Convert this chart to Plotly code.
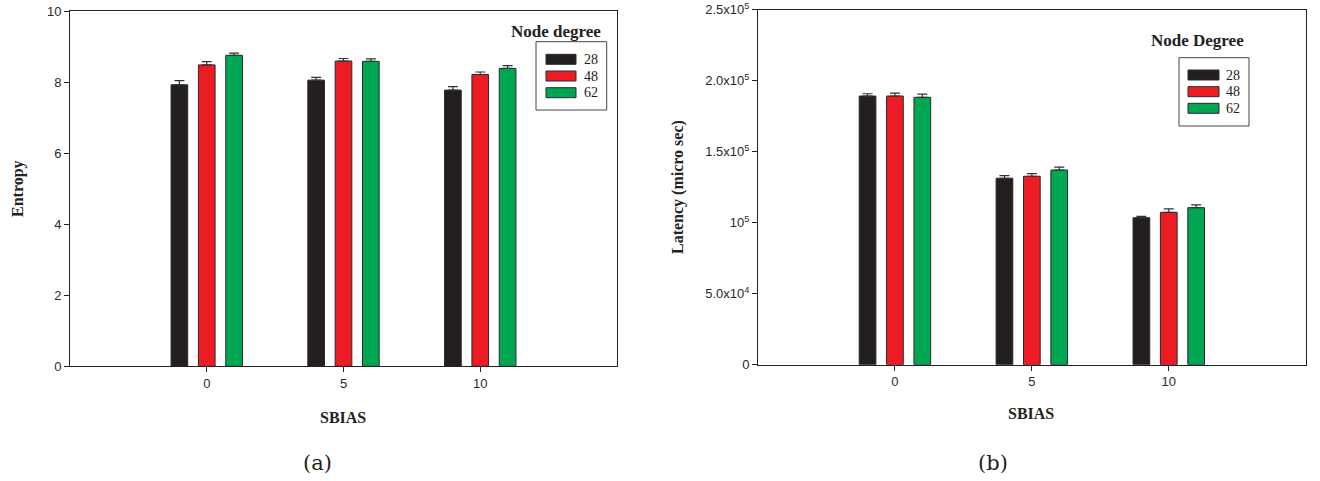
import plotly.graph_objects as go

# ---- data ----
sbias = [0, 5, 10]
degrees = ["28", "48", "62"]
colors = ["#231f20", "#ed1c24", "#00a651"]

entropy_28 = [7.93, 8.06, 7.78]
entropy_48 = [8.49, 8.60, 8.22]
entropy_62 = [8.76, 8.59, 8.39]
entropy_err_28 = [0.12, 0.08, 0.10]
entropy_err_48 = [0.09, 0.07, 0.07]
entropy_err_62 = [0.06, 0.07, 0.08]

latency_28 = [189200, 131300, 103500]
latency_48 = [189200, 132700, 107300]
latency_62 = [188300, 137100, 110600]
latency_err_28 = [1600, 1800, 1000]
latency_err_48 = [2000, 1800, 2500]
latency_err_62 = [2200, 2000, 1900]

entropy_ticks = [0, 2, 4, 6, 8, 10]
latency_tickvals = [0, 50000, 100000, 150000, 200000, 250000]
latency_ticktext = ["0", "5.0x10<sup>4</sup>", "10<sup>5</sup>", "1.5x10<sup>5</sup>",
                    "2.0x10<sup>5</sup>", "2.5x10<sup>5</sup>"]

W, H = 1320, 481
fig = go.Figure()

ent_vals = [entropy_28, entropy_48, entropy_62]
ent_errs = [entropy_err_28, entropy_err_48, entropy_err_62]
lat_vals = [latency_28, latency_48, latency_62]
lat_errs = [latency_err_28, latency_err_48, latency_err_62]

for i in range(3):
    fig.add_trace(go.Bar(
        x=sbias, y=ent_vals[i], name=degrees[i], xaxis="x", yaxis="y",
        marker=dict(color=colors[i], line=dict(color="#2a2a2a", width=1)),
        error_y=dict(type="data", symmetric=False, array=ent_errs[i],
                     arrayminus=[0, 0, 0], color="#333333", thickness=1.2, width=5),
        showlegend=False, offsetgroup=str(i), hoverinfo="skip"))
for i in range(3):
    fig.add_trace(go.Bar(
        x=sbias, y=lat_vals[i], name=degrees[i], xaxis="x2", yaxis="y2",
        marker=dict(color=colors[i], line=dict(color="#2a2a2a", width=1)),
        error_y=dict(type="data", symmetric=False, array=lat_errs[i],
                     arrayminus=[0, 0, 0], color="#333333", thickness=1.2, width=5),
        showlegend=False, offsetgroup=str(i), hoverinfo="skip"))

def px(x):
    return x / W

def py(y):
    return 1 - y / H

tickfont = dict(family="Liberation Sans, Arial", size=13, color="#2a2a2a")

axis_common = dict(showgrid=False, zeroline=False, showline=True, linecolor="#222222",
                   linewidth=1, mirror=True, ticks="outside", ticklen=5,
                   tickcolor="#222222", tickfont=tickfont, automargin=False,
                   fixedrange=True)

fig.update_layout(
    width=W, height=H, autosize=False,
    margin=dict(l=0, r=0, t=0, b=0, pad=0, autoexpand=False),
    paper_bgcolor="white", plot_bgcolor="white",
    barmode="group", bargap=0.4, bargroupgap=0.39,
    xaxis=dict(domain=[px(70), px(617)], range=[-5, 15], tickvals=sbias,
               anchor="y", **axis_common),
    yaxis=dict(domain=[py(366.3), py(11.3)], range=[0, 10], tickvals=entropy_ticks,
               anchor="x", **axis_common),
    xaxis2=dict(domain=[px(758), px(1305.7)], range=[-5, 15], tickvals=sbias,
                anchor="y2", **axis_common),
    yaxis2=dict(domain=[py(364.7), py(9.7)], range=[0, 250000], tickvals=latency_tickvals,
                ticktext=latency_ticktext, anchor="x2", **axis_common),
)

annotations = []
def txt(x, y, t, font, xanchor="center", **kw):
    annotations.append(dict(x=px(x), y=py(y), xref="paper", yref="paper", text=t,
                            showarrow=False, font=font, xanchor=xanchor,
                            yanchor="middle", **kw))

bold_serif = dict(family="Liberation Serif, Times New Roman", size=16, color="#222222")
txt(18, 189, "<b>Entropy</b>", bold_serif, textangle=-90)
txt(678, 187, "<b>Latency (micro sec)</b>", bold_serif, textangle=-90)
txt(343, 417, "<b>SBIAS</b>", bold_serif)
txt(1031, 413, "<b>SBIAS</b>", bold_serif)
cap_font = dict(family="DejaVu Serif, Liberation Serif", size=21, color="#222222")
txt(317, 463, "(a)", cap_font)
txt(993, 463, "(b)", cap_font)

shapes = []
leg_title_font = dict(family="Liberation Serif, Times New Roman", size=17, color="#222222")
leg_font = dict(family="Liberation Serif, Times New Roman", size=14, color="#222222")

def legend(title, tx, ty, box, sw_x0, sw_x1, sw_ys, lab_x):
    txt(tx, ty, "<b>%s</b>" % title, leg_title_font)
    x0, y0, x1, y1 = box
    shapes.append(dict(type="rect", xref="paper", yref="paper",
                       x0=px(x0), x1=px(x1), y0=py(y1), y1=py(y0),
                       line=dict(color="#444444", width=1), fillcolor="white"))
    for i, yc in enumerate(sw_ys):
        shapes.append(dict(type="rect", xref="paper", yref="paper",
                           x0=px(sw_x0), x1=px(sw_x1), y0=py(yc + 5), y1=py(yc - 5),
                           line=dict(color="#2a2a2a", width=1), fillcolor=colors[i]))
        txt(lab_x, yc, degrees[i], leg_font, xanchor="left")

legend("Node degree", 556, 31, (536, 41.7, 606.7, 110), 546, 576, [59.3, 76, 92.7], 582)
legend("Node Degree", 1197, 41, (1179, 57.7, 1249, 126), 1188, 1219, [75, 91.7, 108.3], 1224)

fig.update_layout(annotations=annotations, shapes=shapes)
fig.write_html("out.html", config={"displayModeBar": False, "staticPlot": True},
               post_script="document.body.style.margin='0';document.body.style.overflow='hidden';")
